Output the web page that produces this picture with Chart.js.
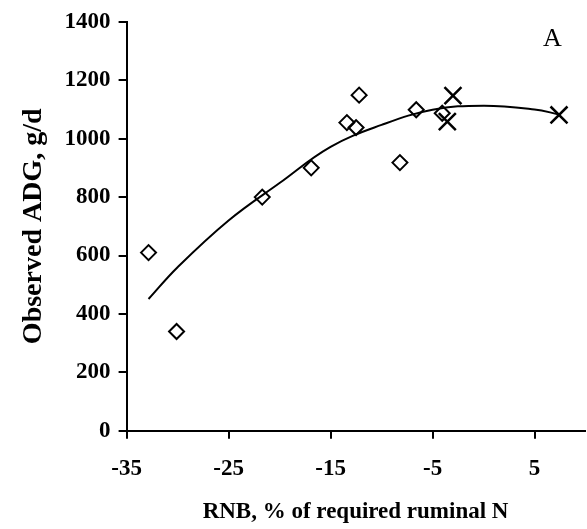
<!DOCTYPE html>
<html>
<head>
<meta charset="utf-8">
<script src="https://cdn.jsdelivr.net/npm/chart.js@4/dist/chart.umd.min.js"></script>
<style>
  html, body { margin: 0; padding: 0; background: #fff; overflow: hidden; }
  #wrap { width: 599px; height: 529px; }
</style>
</head>
<body>
<div id="wrap"><canvas id="myChart"></canvas></div>
<script>
// observed points (diamonds)
const diamondX = [-32.85, -30.1, -21.7, -16.9, -13.4, -12.5, -12.2, -8.2, -6.6, -4.05];
const diamondY = [610, 340, 800, 900, 1055, 1038, 1149, 918, 1099, 1087];
// observed points (crosses)
const crossX = [-3.0, -3.55, 7.4];
const crossY = [1147, 1058, 1081];
// fitted curve
const curveX = [-32.85, -30, -25, -20, -15, -10, -5, 0, 5, 7.4];
const curveY = [451, 560, 720, 848, 972, 1047, 1099, 1113, 1100, 1083];
// tick labels
const xTicks = [-35, -25, -15, -5, 5];
const yTicks = [0, 200, 400, 600, 800, 1000, 1200, 1400];

const toPoints = (xs, ys) => xs.map((x, i) => ({ x: x, y: ys[i] }));

const tickFont = { family: "Liberation Serif", size: 23, weight: "bold" };

const panelLabel = {
  id: "panelLabel",
  afterDraw(chart) {
    const c = chart.ctx;
    c.save();
    c.fillStyle = "#000";
    c.font = "26px 'Liberation Serif'";
    c.textAlign = "center";
    c.textBaseline = "middle";
    c.fillText("A", chart.chartArea.right - 32, chart.chartArea.top + 17);
    c.restore();
  },
};

const ctx = document.getElementById("myChart").getContext("2d");

new Chart(ctx, {
  type: "scatter",
  data: {
    datasets: [
      {
        type: "line",
        label: "fit",
        data: toPoints(curveX, curveY),
        borderColor: "#000",
        borderWidth: 2,
        pointRadius: 0,
        tension: 0.4,
        fill: false,
      },
      {
        label: "diamonds",
        data: toPoints(diamondX, diamondY),
        pointStyle: "rectRot",
        pointRadius: 7.5,
        borderColor: "#000",
        borderWidth: 2,
        backgroundColor: "rgba(0,0,0,0)",
      },
      {
        label: "crosses",
        data: toPoints(crossX, crossY),
        pointStyle: "crossRot",
        pointRadius: 12,
        borderColor: "#000",
        borderWidth: 2.5,
      },
    ],
  },
  options: {
    responsive: true,
    maintainAspectRatio: false,
    animation: false,
    layout: {
      padding: { top: 12, right: 0, bottom: 3, left: 17 },
    },
    scales: {
      x: {
        type: "linear",
        min: -35,
        max: 9.9,
        afterBuildTicks: (axis) => {
          axis.ticks = xTicks.map((v) => ({ value: v }));
        },
        ticks: {
          color: "#000",
          font: tickFont,
          padding: 16,
          maxRotation: 0,
          callback: (v) => String(v),
        },
        grid: {
          drawOnChartArea: false,
          drawTicks: true,
          tickLength: 8,
          color: "#000",
          lineWidth: 2,
        },
        border: { color: "#000", width: 2 },
        title: {
          display: true,
          text: "RNB, % of required ruminal N",
          color: "#000",
          font: { family: "Liberation Serif", size: 23, weight: "bold" },
          padding: { top: 0, bottom: 0 },
        },
      },
      y: {
        type: "linear",
        min: 0,
        max: 1400,
        afterBuildTicks: (axis) => {
          axis.ticks = yTicks.map((v) => ({ value: v }));
        },
        ticks: {
          color: "#000",
          font: tickFont,
          padding: 8,
          callback: (v) => String(v),
        },
        grid: {
          drawOnChartArea: false,
          drawTicks: true,
          tickLength: 8,
          color: "#000",
          lineWidth: 2,
        },
        border: { color: "#000", width: 2 },
        title: {
          display: true,
          text: "Observed ADG, g/d",
          color: "#000",
          font: { family: "Liberation Serif", size: 28, weight: "bold" },
          padding: { top: 0, bottom: 6 },
        },
      },
    },
    plugins: {
      legend: { display: false },
      tooltip: { enabled: false },
    },
  },
  plugins: [panelLabel],
});
</script>
</body>
</html>
